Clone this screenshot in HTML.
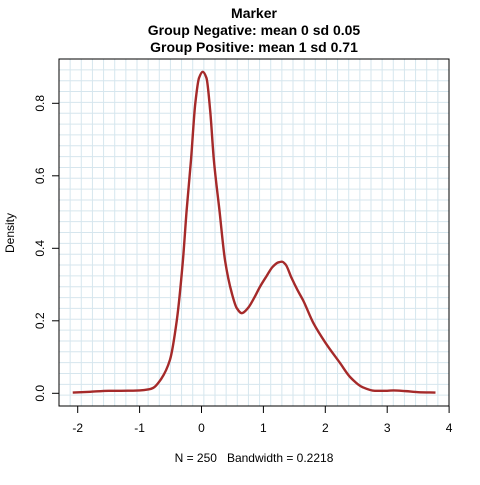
<!DOCTYPE html>
<html><head><meta charset="utf-8"><style>
body{margin:0;background:#fff}
svg text{font-family:"Liberation Sans",Arial,sans-serif;fill:#000}
</style></head><body>
<svg id="chart" width="480" height="480" viewBox="0 0 480 480" xmlns="http://www.w3.org/2000/svg">
<text x="254" y="18" font-size="14" font-weight="bold" text-anchor="middle">Marker</text>
<text x="254" y="35" font-size="14" font-weight="bold" text-anchor="middle">Group Negative: mean 0 sd 0.05</text>
<text x="254" y="52" font-size="14" font-weight="bold" text-anchor="middle">Group Positive: mean 1 sd 0.71</text>
<g id="grid"></g>
<g id="axes"></g>
<path id="curve" fill="none" stroke="#a52a2a" stroke-width="2.4" stroke-linejoin="round"/>
<rect x="59" y="59" width="390" height="347" fill="none" stroke="#000" stroke-width="1"/>
<text x="254" y="462" font-size="12" text-anchor="middle" xml:space="preserve">N = 250   Bandwidth = 0.2218</text>
<text transform="translate(14,233) rotate(-90)" font-size="12" text-anchor="middle">Density</text>
</svg>
<script>
const xs=[-2.08,-1.8,-1.5,-1.3,-1.0,-0.85,-0.78,-0.65,-0.51,-0.40,-0.30,-0.24,-0.17,-0.10,-0.04,0.02,0.08,0.14,0.20,0.29,0.38,0.49,0.57,0.65,0.75,0.85,0.945,1.05,1.15,1.24,1.30,1.36,1.45,1.55,1.64,1.81,2.0,2.24,2.4,2.6,2.8,3.0,3.1,3.3,3.5,3.78];
const ys=[0.002,0.004,0.007,0.007,0.008,0.011,0.015,0.04,0.092,0.2,0.367,0.505,0.643,0.80,0.87,0.887,0.87,0.78,0.643,0.505,0.367,0.276,0.235,0.221,0.235,0.263,0.294,0.323,0.349,0.361,0.363,0.355,0.32,0.285,0.257,0.193,0.14,0.083,0.045,0.017,0.007,0.007,0.008,0.006,0.003,0.002];
const xTicks=[-2,-1,0,1,2,3,4];
const yTicks=[0,0.2,0.4,0.6,0.8];
const yTickLabels=["0.0","0.2","0.4","0.6","0.8"];
const NS="http://www.w3.org/2000/svg";
const X=v=>201.5+v*61.9, Y=v=>393.3-v*362.5;
const grid=document.getElementById('grid'), axes=document.getElementById('axes');
function mk(tag,attrs,parent){const e=document.createElementNS(NS,tag);for(const k in attrs)e.setAttribute(k,attrs[k]);parent.appendChild(e);return e;}
for(let i=1;i<35;i++){const x=59+i*390/35;
const l=mk('line',{x1:x,x2:x,y1:59,y2:406,stroke:'#d6e6ee','stroke-width':1},grid);

}
for(let i=1;i<32;i++){const y=59+i*347/32;
const l=mk('line',{x1:59,x2:449,y1:y,y2:y,stroke:'#d6e6ee','stroke-width':1},grid);

}
mk('line',{x1:X(xTicks[0]),x2:X(xTicks[xTicks.length-1]),y1:406,y2:406,stroke:'#000'},axes);
xTicks.forEach(t=>{
const tk=mk('line',{x1:X(t),x2:X(t),y1:406,y2:413,stroke:'#000'},axes);


const tx=mk('text',{x:X(t),y:432,'font-size':12,'text-anchor':'middle'},axes);tx.textContent=t;

});
yTicks.forEach((t,i)=>{
const tk=mk('line',{x1:52,x2:59,y1:Y(t),y2:Y(t),stroke:'#000'},axes);


const tx=mk('text',{transform:`translate(44,${Y(t)}) rotate(-90)`,'font-size':12,'text-anchor':'middle'},axes);tx.textContent=yTickLabels[i];

});
// monotone cubic (Fritsch-Carlson) in pixel space
const px=xs.map(X), py=ys.map(Y), n=px.length;
const dk=[],m=[];
for(let i=0;i<n-1;i++)dk.push((py[i+1]-py[i])/(px[i+1]-px[i]));
m[0]=dk[0];m[n-1]=dk[n-2];
for(let i=1;i<n-1;i++){
 if(dk[i-1]*dk[i]<=0)m[i]=0;
 else{const h0=px[i]-px[i-1],h1=px[i+1]-px[i],w1=2*h1+h0,w2=h1+2*h0;m[i]=(w1+w2)/(w1/dk[i-1]+w2/dk[i]);}
}
let d=`M${px[0]},${py[0]}`;
for(let i=0;i<n-1;i++){const h=(px[i+1]-px[i])/3;
d+=` C${px[i]+h},${py[i]+m[i]*h} ${px[i+1]-h},${py[i+1]-m[i+1]*h} ${px[i+1]},${py[i+1]}`;}
document.getElementById('curve').setAttribute('d',d);
</script>
</body></html>
